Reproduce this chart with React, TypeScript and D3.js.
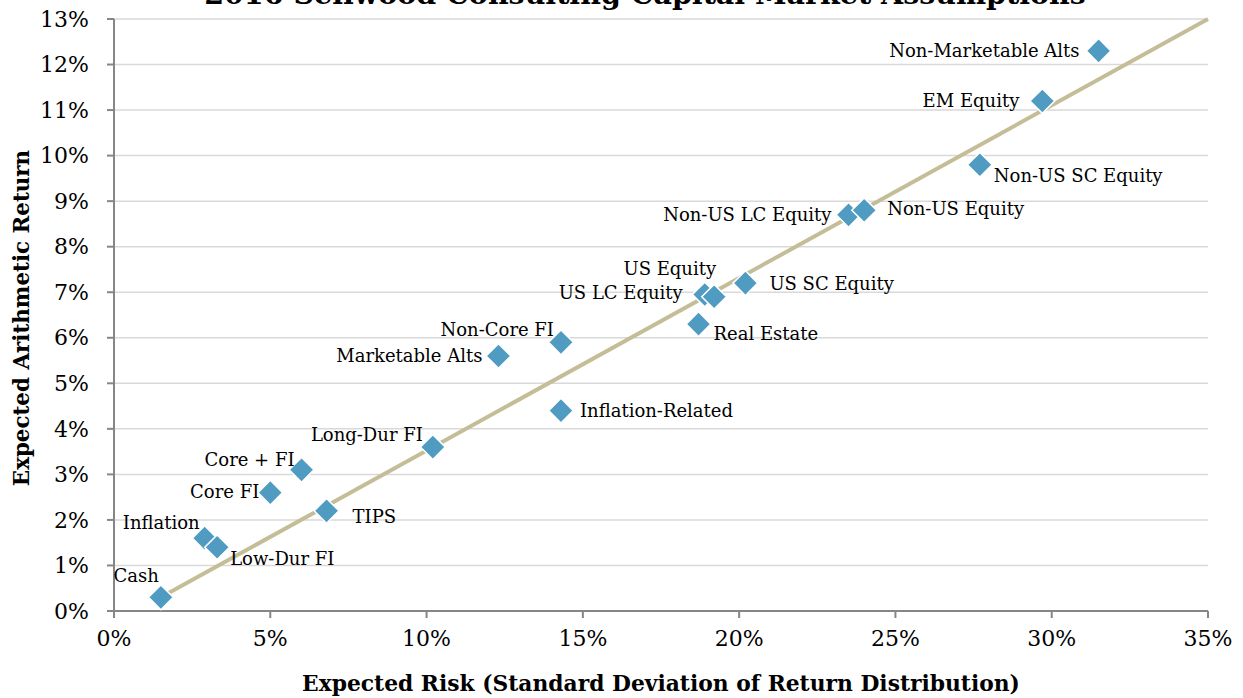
import * as d3 from 'd3';

// Asset classes: expected risk (x, %) and expected arithmetic return (y, %)
const ASSETS = [
  'Cash', 'Inflation', 'Low-Dur FI', 'Core FI', 'Core + FI', 'TIPS', 'Long-Dur FI',
  'Marketable Alts', 'Non-Core FI', 'Inflation-Related', 'Real Estate', 'US LC Equity',
  'US Equity', 'US SC Equity', 'Non-US LC Equity', 'Non-US Equity', 'Non-US SC Equity',
  'EM Equity', 'Non-Marketable Alts',
];
const RISK = [1.5, 2.9, 3.3, 5.0, 6.0, 6.8, 10.2, 12.3, 14.3, 14.3, 18.7, 18.9, 19.2, 20.2, 23.5, 24.0, 27.7, 29.7, 31.5];
const RETURN = [0.3, 1.6, 1.4, 2.6, 3.1, 2.2, 3.6, 5.6, 5.9, 4.4, 6.3, 6.95, 6.9, 7.2, 8.7, 8.8, 9.8, 11.2, 12.3];

// trend line end points
const LINE_RISK = [1.5, 35];
const LINE_RETURN = [0.3, 13];

const X_TICKS = [0, 5, 10, 15, 20, 25, 30, 35];
const Y_TICKS = [0, 1, 2, 3, 4, 5, 6, 7, 8, 9, 10, 11, 12, 13];

const TITLE = '2016 Sellwood Consulting Capital Market Assumptions';
const X_TITLE = 'Expected Risk (Standard Deviation of Return Distribution)';
const Y_TITLE = 'Expected Arithmetic Return';

// label placement per point: [anchor, dx, dy]
const LABEL_POS: [string, number, number][] = [
  ['end', -2, -22], ['end', -5, -15], ['start', 13, 11], ['end', -11, -1], ['end', -7, -10],
  ['start', 26, 6], ['end', -10, -12], ['end', -16, 0], ['end', -7, -13], ['start', 19, 0],
  ['start', 15, 10], ['end', -22, -2], ['end', 2, -28], ['start', 24, 1], ['end', -17, 0],
  ['start', 23, -2], ['start', 14, 11], ['end', -23, 0], ['end', -19, 0],
];

const W = 1243;
const H = 698;
const LEFT = 114;
const RIGHT = 1208;
const TOP = 19;
const BOTTOM = 611;
const FONT = '"DejaVu Serif", serif';
const AXIS = '#868686';
const GRID = '#d9d9d9';
const MARK = '#4f9bc1';
const TREND = '#c4bd97';

export default function App() {
  const x = d3.scaleLinear().domain([0, 35]).range([LEFT, RIGHT]);
  const y = d3.scaleLinear().domain([0, 13]).range([BOTTOM, TOP]);
  const diamond = d3.symbol().type(d3.symbolDiamond2).size(390)();
  const trend = d3.line<number>().x(i => x(LINE_RISK[i])).y(i => y(LINE_RETURN[i]))([0, 1]) ?? '';

  return (
    <svg width={W} height={H} style={{ position: 'absolute', left: 0, top: 0, background: '#fff' }}>
      <text x={645} y={4} textAnchor="middle" fontFamily={FONT} fontWeight="bold" fontSize={28.5}>{TITLE}</text>

      {/* gridlines */}
      {Y_TICKS.filter(t => t > 0).map(t => (
        <line key={t} x1={LEFT} x2={RIGHT} y1={y(t)} y2={y(t)} stroke={GRID} strokeWidth={1.5} />
      ))}

      {/* axes */}
      <line x1={LEFT} x2={LEFT} y1={TOP} y2={BOTTOM} stroke={AXIS} strokeWidth={2} />
      <line x1={LEFT} x2={RIGHT} y1={BOTTOM} y2={BOTTOM} stroke={AXIS} strokeWidth={2} />
      {Y_TICKS.map(t => (
        <g key={t}>
          <line x1={LEFT - 7} x2={LEFT} y1={y(t)} y2={y(t)} stroke={AXIS} strokeWidth={2} />
          <text x={89} y={y(t)} dy="0.35em" textAnchor="end" fontFamily={FONT} fontSize={22}>{t}%</text>
        </g>
      ))}
      {X_TICKS.map(t => (
        <g key={t}>
          <line x1={x(t)} x2={x(t)} y1={BOTTOM} y2={BOTTOM + 7} stroke={AXIS} strokeWidth={2} />
          <text x={x(t)} y={646} textAnchor="middle" fontFamily={FONT} fontSize={22}>{t}%</text>
        </g>
      ))}

      <text x={661} y={691} textAnchor="middle" fontFamily={FONT} fontWeight="bold" fontSize={21.8}>{X_TITLE}</text>
      <text transform="translate(29,318) rotate(-90)" textAnchor="middle" fontFamily={FONT} fontWeight="bold" fontSize={21.4}>{Y_TITLE}</text>

      {/* trend line */}
      <path d={trend} stroke={TREND} strokeWidth={4} fill="none" />

      {/* points */}
      {ASSETS.map((name, i) => (
        <path key={name} d={diamond} transform={`translate(${x(RISK[i])},${y(RETURN[i])})`}
          fill={MARK} stroke="#fff" strokeWidth={1.5} />
      ))}
      {ASSETS.map((name, i) => {
        const [anchor, dx, dy] = LABEL_POS[i];
        return (
          <text key={name} x={x(RISK[i]) + dx} y={y(RETURN[i]) + dy} dy="0.35em" textAnchor={anchor}
            fontFamily={FONT} fontSize={18}>{name}</text>
        );
      })}
    </svg>
  );
}
